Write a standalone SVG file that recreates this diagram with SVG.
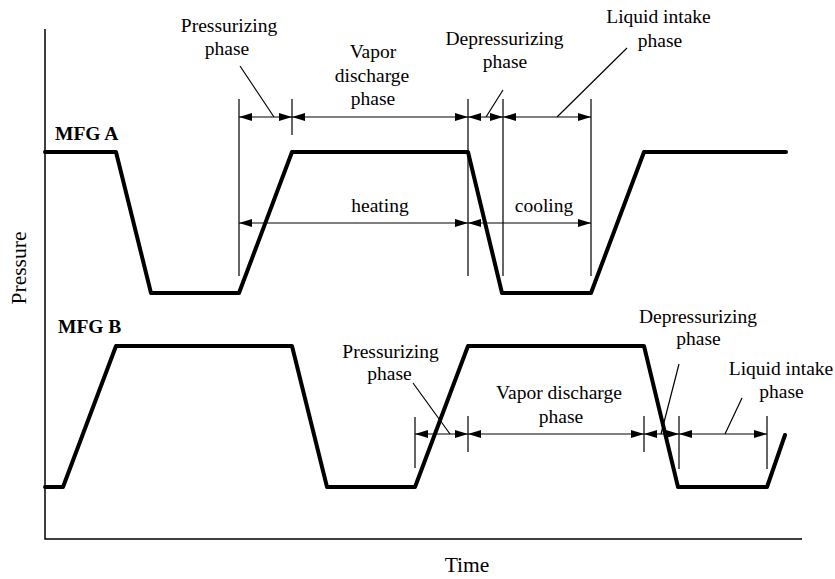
<svg xmlns="http://www.w3.org/2000/svg" width="835" height="579" viewBox="0 0 835 579">
<defs>
<marker id="ah" markerUnits="userSpaceOnUse" markerWidth="14" markerHeight="9" refX="13" refY="4" orient="auto-start-reverse" viewBox="0 0 14 9">
<path d="M0,0 L13,4 L0,8 z" fill="#000"/>
</marker>
<style>
text{font-family:"Liberation Serif","Times New Roman",serif;font-size:19.5px;fill:#000}
.c{text-anchor:middle}
.b{font-weight:bold}
.ax{font-size:21.5px}
.axis{stroke:#000;stroke-width:1.5;fill:none}
.wave{stroke:#000;stroke-width:4;fill:none;stroke-linejoin:round;stroke-linecap:round}
.ext{stroke:#000;stroke-width:1.2;fill:none}
.dim{stroke:#000;stroke-width:1.2;fill:none;marker-start:url(#ah);marker-end:url(#ah)}
.lead{stroke:#000;stroke-width:1.2;fill:none}
</style>
</defs>
<rect width="835" height="579" fill="#fff"/>
<g id="axes">
<path class="axis" d="M45,29 V539 H802"/>
<text class="c ax" x="467" y="572">Time</text>
<text class="c ax" transform="translate(26,268) rotate(-90)">Pressure</text>
</g>
<g id="mfg-a">
<text class="b" x="55" y="140">MFG A</text>
<path class="wave" d="M45,152 H116 L151,293 H239 L292,152 H468 L502,293 H591 L644,152 H786"/>
</g>
<g id="mfg-b">
<text class="b" x="58" y="333">MFG B</text>
<path class="wave" d="M45,487 H63 L116,346 H292 L327,487 H415 L468,346 H644 L678,487 H767 L785,435"/>
</g>
<g id="connectors">
<path class="ext" d="M239,99 V276 M292,99 V135 M468,99 V276 M503,99 V276 M591,99 V276"/>
<line class="dim" x1="239" y1="117" x2="292" y2="117"/>
<line class="dim" x1="292" y1="117" x2="468" y2="117"/>
<line class="dim" x1="468" y1="117" x2="503" y2="117"/>
<line class="dim" x1="503" y1="117" x2="591" y2="117"/>
<line class="dim" x1="239" y1="223" x2="468" y2="223"/>
<line class="dim" x1="468" y1="223" x2="591" y2="223"/>
<path class="lead" d="M240,66 L274,117 M503,90 L486,117 M627,48 L557,117"/>
<path class="ext" d="M415,417 V468 M468,416 V452 M644,416 V452 M679,416 V469 M767,416 V469"/>
<line class="dim" x1="415" y1="434" x2="468" y2="434"/>
<line class="dim" x1="468" y1="434" x2="644" y2="434"/>
<line class="dim" x1="644" y1="434" x2="679" y2="434"/>
<line class="dim" x1="679" y1="434" x2="767" y2="434"/>
<path class="lead" d="M413,383 L450,434 M679,364 L661,434 M742,398 L725,434"/>
</g>
<g id="labels-a">
<text class="c" x="229" y="32">Pressurizing</text>
<text class="c" x="227" y="55">phase</text>
<text class="c" x="373" y="58">Vapor</text>
<text class="c" x="372" y="82">discharge</text>
<text class="c" x="373" y="105">phase</text>
<text class="c" x="504.5" y="45">Depressurizing</text>
<text class="c" x="505" y="68">phase</text>
<text class="c" x="658.5" y="23">Liquid intake</text>
<text class="c" x="660" y="47">phase</text>
<text class="c" x="380" y="212">heating</text>
<text class="c" x="544" y="212">cooling</text>
</g>
<g id="labels-b">
<text class="c" x="390.5" y="358">Pressurizing</text>
<text class="c" x="389.5" y="380">phase</text>
<text class="c" x="559" y="399">Vapor discharge</text>
<text class="c" x="561" y="423">phase</text>
<text class="c" x="698" y="323">Depressurizing</text>
<text class="c" x="698.5" y="345">phase</text>
<text class="c" x="781" y="375">Liquid intake</text>
<text class="c" x="781.5" y="398">phase</text>
</g>
</svg>
